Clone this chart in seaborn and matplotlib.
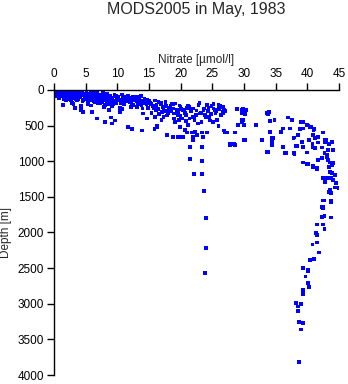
import numpy as np
import pandas as pd
import matplotlib
matplotlib.use("Agg")
import matplotlib.pyplot as plt
import seaborn as sns

# Nitrate [umol/l] and depth [m] of observations, grouped by depth/concentration band
surf_a_nitrate = [0.1,0.2,0.3,0.4,0.5,0.6,0.7,0.8,0.9,1.0,1.1,1.2,1.3,1.4,1.5,1.6,1.7,1.8,1.9,2.0,
                  2.1,2.2,2.3,2.4,2.5,2.6,2.7,2.8,2.9,3.0,3.1,3.2,3.3,3.5,3.6,3.8,3.9,
                  0.2,0.4,0.6,0.9,1.2,1.5,1.8,2.1,2.4,2.7,3.0,3.4,3.7,0.3,0.8,1.3,1.9,2.5,3.1,
                  0.1,0.5,1.0,1.6,2.2,2.8,1.4,3.3,4.3]
surf_a_depth = [5,20,10,35,50,15,25,60,40,8,30,75,45,20,90,55,35,110,70,25,
                130,50,85,40,100,65,140,30,80,55,120,95,45,75,150,105,60,
                45,70,25,95,10,40,65,15,115,20,95,125,35,70,110,5,150,30,200,
                30,85,55,130,65,180,210,250,280]

surf_b_nitrate = [4.0,4.2,4.4,4.6,4.8,5.0,5.2,5.4,5.6,5.8,6.0,6.2,6.4,6.6,6.8,7.0,7.2,7.4,7.6,7.8,
                  8.0,8.2,8.4,8.6,8.8,4.1,4.5,4.9,5.3,5.7,6.1,6.5,6.9,7.3,7.7,8.1,8.5,8.9,
                  4.3,4.7,5.1,5.5,5.9,6.3,6.7,7.1,7.5,7.9,8.3,8.7,
                  4.6,6.0,6.8,8.1,8.7,9.0,9.2,9.6]
surf_b_depth = [60,100,40,80,130,70,110,55,95,150,75,120,45,90,160,105,65,135,85,115,
                140,70,175,100,125,30,160,85,200,140,40,175,110,190,60,215,120,165,
                230,50,120,75,220,100,135,80,175,240,95,200,
                310,310,400,450,280,390,470,430]

surf_c_nitrate = [9.0,9.3,9.6,9.9,10.2,10.5,10.8,11.1,11.4,11.7,12.0,12.3,12.6,12.9,13.2,13.5,13.8,14.1,14.4,14.7,
                  9.2,9.8,10.4,11.0,11.6,12.2,12.8,13.4,14.0,14.6,9.5,10.1,10.7,11.3,11.9,12.5,13.1,13.7,14.3,14.9,
                  10.4,11.7,12.3,13.9,14.7,14.1,12.4,13.8]
surf_c_depth = [110,150,90,180,130,160,100,200,140,120,170,210,110,150,190,130,220,160,180,140,
                230,80,250,170,90,240,130,100,260,200,190,120,270,140,160,100,240,180,120,250,
                310,520,550,570,400,330,550,570]

surf_d_nitrate = [0.15,0.35,0.55,0.75,0.95,1.15,1.35,1.55,1.75,1.95,2.15,2.35,2.55,2.75,2.95,3.15,3.35,3.55,
                  3.75,3.95,4.15,4.35,4.55,4.75,4.95,5.15,5.35,5.55,5.75,5.95,6.15,6.35,6.55,6.75,6.95,
                  7.15,7.35,7.55,7.75,7.95,8.15,8.35,8.55,8.75,8.95,9.15,9.35,9.55,9.75,9.95,10.15,10.35,
                  10.55,10.75,10.95,11.15,11.35,11.55,11.75,11.95,12.15,12.35,12.55,12.75,12.95,13.15,
                  13.35,13.55,13.75,13.95]
surf_d_depth = [25,60,15,45,75,35,95,20,50,80,40,100,60,10,70,110,30,85,
                125,50,95,25,140,65,110,45,170,90,20,130,60,155,105,30,180,
                75,120,165,40,95,145,60,190,110,80,135,200,75,160,115,95,145,
                185,65,125,205,100,155,85,130,175,110,215,140,95,160,
                120,195,85,150]

mid_a_nitrate = [15.2,15.6,16.0,16.4,16.8,17.2,17.6,18.0,18.4,18.8,19.2,19.6,20.0,20.4,20.8,
                 15.4,15.8,16.2,16.6,17.0,17.4,17.8,18.2,18.6,19.0,19.4,19.8,20.2,20.6,21.0,
                 16.0,17.0,18.0,19.0,20.0,15.9,16.3,16.3,17.8,18.8,19.6,20.2,20.4,19.1,19.9,20.7]
mid_a_depth = [180,230,150,270,200,240,170,290,220,260,190,310,240,280,350,
               320,260,210,340,180,300,360,250,190,330,280,220,400,310,250,
               380,420,330,400,370,550,510,530,630,660,660,660,660,450,520,560]

mid_b_nitrate = [21.2,21.6,22.0,22.4,22.8,23.2,23.6,24.0,24.4,24.8,25.2,25.6,26.0,26.4,26.8,
                 21.4,22.2,23.0,23.8,24.6,25.4,26.2,27.0,
                 24.2,25.2,26.0,26.7,26.7,21.0,21.8,22.3,22.6,23.4,23.5,24.2,22.0,21.2,22.7,
                 25.1,26.0,26.9,27.3,22.0,27.0,28.6,27.8,28.4,27.7,28.6,30.2]
mid_b_depth = [220,300,260,350,210,320,280,380,250,340,200,300,260,350,280,
               400,430,180,350,430,280,230,300,
               210,260,210,240,330,600,600,590,630,600,660,600,660,490,470,
               450,510,570,600,700,600,600,760,760,770,770,700]

mid_d_nitrate = [15.3,15.9,16.5,17.1,17.7,18.3,18.9,19.5,20.1,20.7,21.3,21.9,22.5,23.1,23.7,
                 24.3,24.9,25.5,26.1,26.7,15.1,16.1,17.3,18.5,19.7,20.9,22.1,23.3,24.5,25.7]
mid_d_depth = [200,260,170,310,230,280,200,350,270,320,240,380,290,330,260,
               300,230,330,270,310,150,290,380,300,420,440,380,450,380,420]

mid_c_nitrate = [28.9,29.7,29.6,29.7,29.8,30.3,30.2,30.4,30.2,29.7,30.0,33.6,33.8,34.1,34.8,34.0,
                 31.9,37.0,37.6,39.3,40.1,40.6,41.1,42.5,42.8,43.0,41.7,41.2,40.3,40.8,41.7,
                 39.2,37.9,38.5,38.9,37.3,36.2,35.9,34.4,34.4,34.4,32.8,30.0,29.1,29.8,
                 39.2,39.3,40.4,41.0,39.0,40.0,40.9]
mid_c_depth = [270,280,330,420,265,280,340,290,340,450,490,320,340,440,420,310,
               490,390,420,450,500,520,550,600,700,700,660,680,700,760,740,
               730,670,630,550,540,540,590,670,700,760,700,700,490,420,
               460,540,520,560,450,490,630]

deep_a_nitrate = [23.4,27.8,28.6,30.0,32.9,34.4,33.8,33.6,34.4,34.6,34.1,36.2,36.6,38.0,38.4,39.3,40.0,
                  40.8,41.2,42.3,42.7,42.8,43.1,43.3,43.4,43.9,44.1,36.5,37.9,38.2,37.8,38.5]
deep_a_depth = [800,770,770,710,710,760,870,870,770,680,590,800,890,900,790,800,880,
                800,820,810,890,730,910,840,760,730,840,890,890,790,680,630]

deep_b_nitrate = [39.3,40.0,40.9,41.5,41.7,42.3,43.1,43.3,43.6,43.9,44.1,43.4,43.6,43.9,44.4,
                  42.5,42.8,43.1,43.7,44.1,44.5,44.4,45.0,43.4,43.7,43.6,42.7,43.7,42.5,42.5,
                  40.1,40.9,41.5]
deep_b_depth = [1020,1040,1070,1110,980,960,940,980,1020,1050,1030,1080,1150,1170,1190,
                1240,1290,1240,1240,1260,1310,1370,1380,1430,1450,1400,1550,1560,1640,1660,
                1040,1080,1090]

deep_c_nitrate = [42.5,43.7,42.3,42.3,42.7,43.7,41.5,42.5,42.7,41.4,41.5,40.8,41.5,41.9,40.4,41.1,
                  39.3,40.1,40.1,39.7,40.1,40.3,39.3,39.3,38.2,39.0,38.5,38.5,38.7,39.3,39.0,38.7]
deep_c_depth = [1550,1570,1640,1780,1770,1790,1890,1890,1950,2010,2040,2170,2140,2280,2390,2370,
                2500,2530,2550,2620,2710,2770,2810,2860,2990,3000,3040,3100,3260,3270,3360,3820]

column_nitrate = [21.5,21.5,23.4,22.1,23.4,23.7,24.0,24.0,23.9]
column_depth = [800,970,1000,1180,1180,1420,1800,2220,2570]

nitrate = (surf_a_nitrate + surf_b_nitrate + surf_c_nitrate + surf_d_nitrate + mid_a_nitrate
           + mid_b_nitrate + mid_d_nitrate + mid_c_nitrate + deep_a_nitrate + deep_b_nitrate
           + deep_c_nitrate + column_nitrate)
depth = (surf_a_depth + surf_b_depth + surf_c_depth + surf_d_depth + mid_a_depth
         + mid_b_depth + mid_d_depth + mid_c_depth + deep_a_depth + deep_b_depth
         + deep_c_depth + column_depth)
df = pd.DataFrame({"nitrate": nitrate, "depth": depth})

x_ticks = [0, 5, 10, 15, 20, 25, 30, 35, 40, 45]
y_ticks = [0, 500, 1000, 1500, 2000, 2500, 3000, 3500, 4000]

sns.set_style("ticks")
plt.rcParams["font.family"] = ["Liberation Sans", "DejaVu Sans"]

fig = plt.figure(figsize=(3.48, 3.84), dpi=100)
ax = fig.add_axes([0.155, 0.0234, 0.819, 0.7426])

sns.scatterplot(data=df, x="nitrate", y="depth", ax=ax, marker="s", s=7,
                color="#0000ff", linewidth=0, edgecolor="none", legend=False)

ax.set_xlim(0, 45)
ax.set_ylim(4000, 0)
ax.set_xticks(x_ticks)
ax.set_yticks(y_ticks)
ax.xaxis.tick_top()
ax.xaxis.set_label_position("top")
ax.tick_params(axis="both", direction="out", length=5, width=1, color="black",
               labelsize=8.5, labelcolor="black", pad=2)
for side in ["right", "bottom"]:
    ax.spines[side].set_visible(False)
for side in ["left", "top"]:
    ax.spines[side].set_linewidth(1)
    ax.spines[side].set_color("black")

ax.set_xlabel("Nitrate [\u00b5mol/l]", fontsize=8.5, labelpad=4)
ax.set_ylabel("Depth [m]", fontsize=8.5, labelpad=4)
fig.suptitle("MODS2005 in May, 1983", fontsize=11.5, y=0.995, x=0.565, va="top")

fig.savefig("out.png", dpi=100)
